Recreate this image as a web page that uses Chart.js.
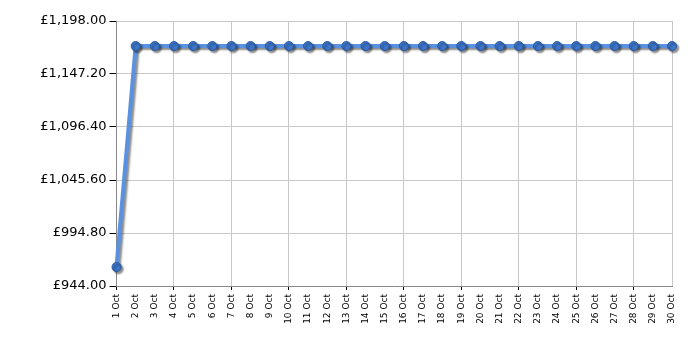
<!DOCTYPE html>
<html>
<head>
<meta charset="utf-8">
<script src="https://cdn.jsdelivr.net/npm/chart.js@4"></script>
<style>
html,body{margin:0;padding:0;background:#fff;}
#wrap{width:700px;height:350px;position:relative;}
</style>
</head>
<body>
<div id="wrap"><canvas id="c" width="700" height="350"></canvas></div>
<script>
const categories = ["1 Oct","2 Oct","3 Oct","4 Oct","5 Oct","6 Oct","7 Oct","8 Oct","9 Oct","10 Oct","11 Oct","12 Oct","13 Oct","14 Oct","15 Oct","16 Oct","17 Oct","18 Oct","19 Oct","20 Oct","21 Oct","22 Oct","23 Oct","24 Oct","25 Oct","26 Oct","27 Oct","28 Oct","29 Oct","30 Oct"];
const prices = [962.2,1174,1174,1174,1174,1174,1174,1174,1174,1174,1174,1174,1174,1174,1174,1174,1174,1174,1174,1174,1174,1174,1174,1174,1174,1174,1174,1174,1174,1174];
const yTicks = [944, 994.8, 1045.6, 1096.4, 1147.2, 1198];

const shadowPlugin = {
  id: 'shadow',
  beforeDatasetsDraw(chart) {
    const ctx = chart.ctx;
    ctx.save();
    ctx.shadowColor = 'rgba(0,0,0,0.45)';
    ctx.shadowOffsetX = 2;
    ctx.shadowOffsetY = 2;
    ctx.shadowBlur = 2;
  },
  afterDatasetsDraw(chart) {
    chart.ctx.restore();
  }
};

const lastIdx = categories.length - 1;

new Chart(document.getElementById('c'), {
  type: 'line',
  data: {
    labels: categories,
    datasets: [{
      data: prices,
      borderColor: '#5a92e0',
      borderWidth: 4,
      pointRadius: 4.5,
      pointBackgroundColor: '#3d75c9',
      pointBorderColor: '#2b5aa3',
      pointBorderWidth: 1,
      tension: 0,
      clip: false
    }]
  },
  options: {
    responsive: false,
    animation: false,
    events: [],
    layout: { padding: { top: 21, right: 28, left: 0, bottom: 0 } },
    plugins: { legend: { display: false }, tooltip: { enabled: false } },
    scales: {
      x: {
        type: 'category',
        offset: false,
        afterFit(scale) { scale.height = 64; },
        border: { display: true, color: '#888888', width: 1 },
        grid: {
          color: ctx => (ctx.index % 3 === 0 || ctx.index === lastIdx) ? '#c8c8c8' : 'rgba(0,0,0,0)',
          tickColor: ctx => (ctx.index % 3 === 0) ? '#000000' : 'rgba(0,0,0,0)',
          tickLength: 4,
          drawTicks: true
        },
        ticks: {
          autoSkip: false,
          maxRotation: 90,
          minRotation: 90,
          padding: 4,
          color: '#000',
          font: { family: 'DejaVu Sans', size: 9 }
        }
      },
      y: {
        min: 944,
        max: 1198,
        afterFit(scale) { scale.width = 116.5; },
        afterBuildTicks(scale) { scale.ticks = yTicks.map(v => ({ value: v })); },
        border: { display: true, color: '#888888', width: 1 },
        grid: {
          color: '#c8c8c8',
          tickColor: '#000000',
          tickLength: 7
        },
        ticks: {
          padding: 3,
          color: '#000',
          font: { family: 'DejaVu Sans', size: 13 },
          callback: v => '£' + Number(v).toLocaleString('en-GB', { minimumFractionDigits: 2, maximumFractionDigits: 2 })
        }
      }
    }
  },
  plugins: [shadowPlugin]
});
</script>
</body>
</html>
